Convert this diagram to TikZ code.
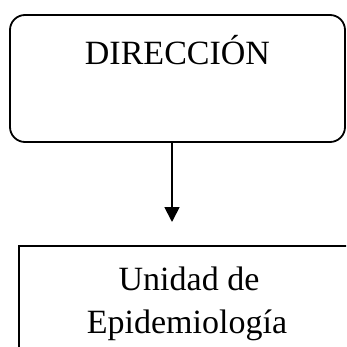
\documentclass[tikz,border=0pt]{standalone}
\usepackage{fontspec}
\setmainfont{Liberation Serif}
\usetikzlibrary{arrows.meta}
\begin{document}
\begin{tikzpicture}[x=1pt,y=1pt,
  boxline/.style={draw=black,line width=1.8pt},
  lbl/.style={font=\fontsize{34}{43}\selectfont,anchor=base,inner sep=0pt}]
\useasboundingbox (0,0) rectangle (346,-347);
\clip (0,0) rectangle (346,-347);
\node[boxline,rounded corners=15pt,minimum width=335pt,minimum height=127pt,inner sep=0pt] (dir) at (177.5,-78.5) {};
\node[lbl] (dirtext) at (177.5,-65) {DIRECCIÓN};
\node[boxline,minimum width=338pt,minimum height=127pt,inner sep=0pt,anchor=north west] (uni) at (18,-245) {};
\node[lbl] (unitext1) at (189,-290) {Unidad de};
\node[lbl] (unitext2) at (187,-333) {Epidemiología};
\coordinate (tip) at (172,-222);
\draw[line width=1.8pt,-{Triangle[width=15pt,length=15pt]}] (dir.south -| tip) -- (tip);
\end{tikzpicture}
\end{document}
